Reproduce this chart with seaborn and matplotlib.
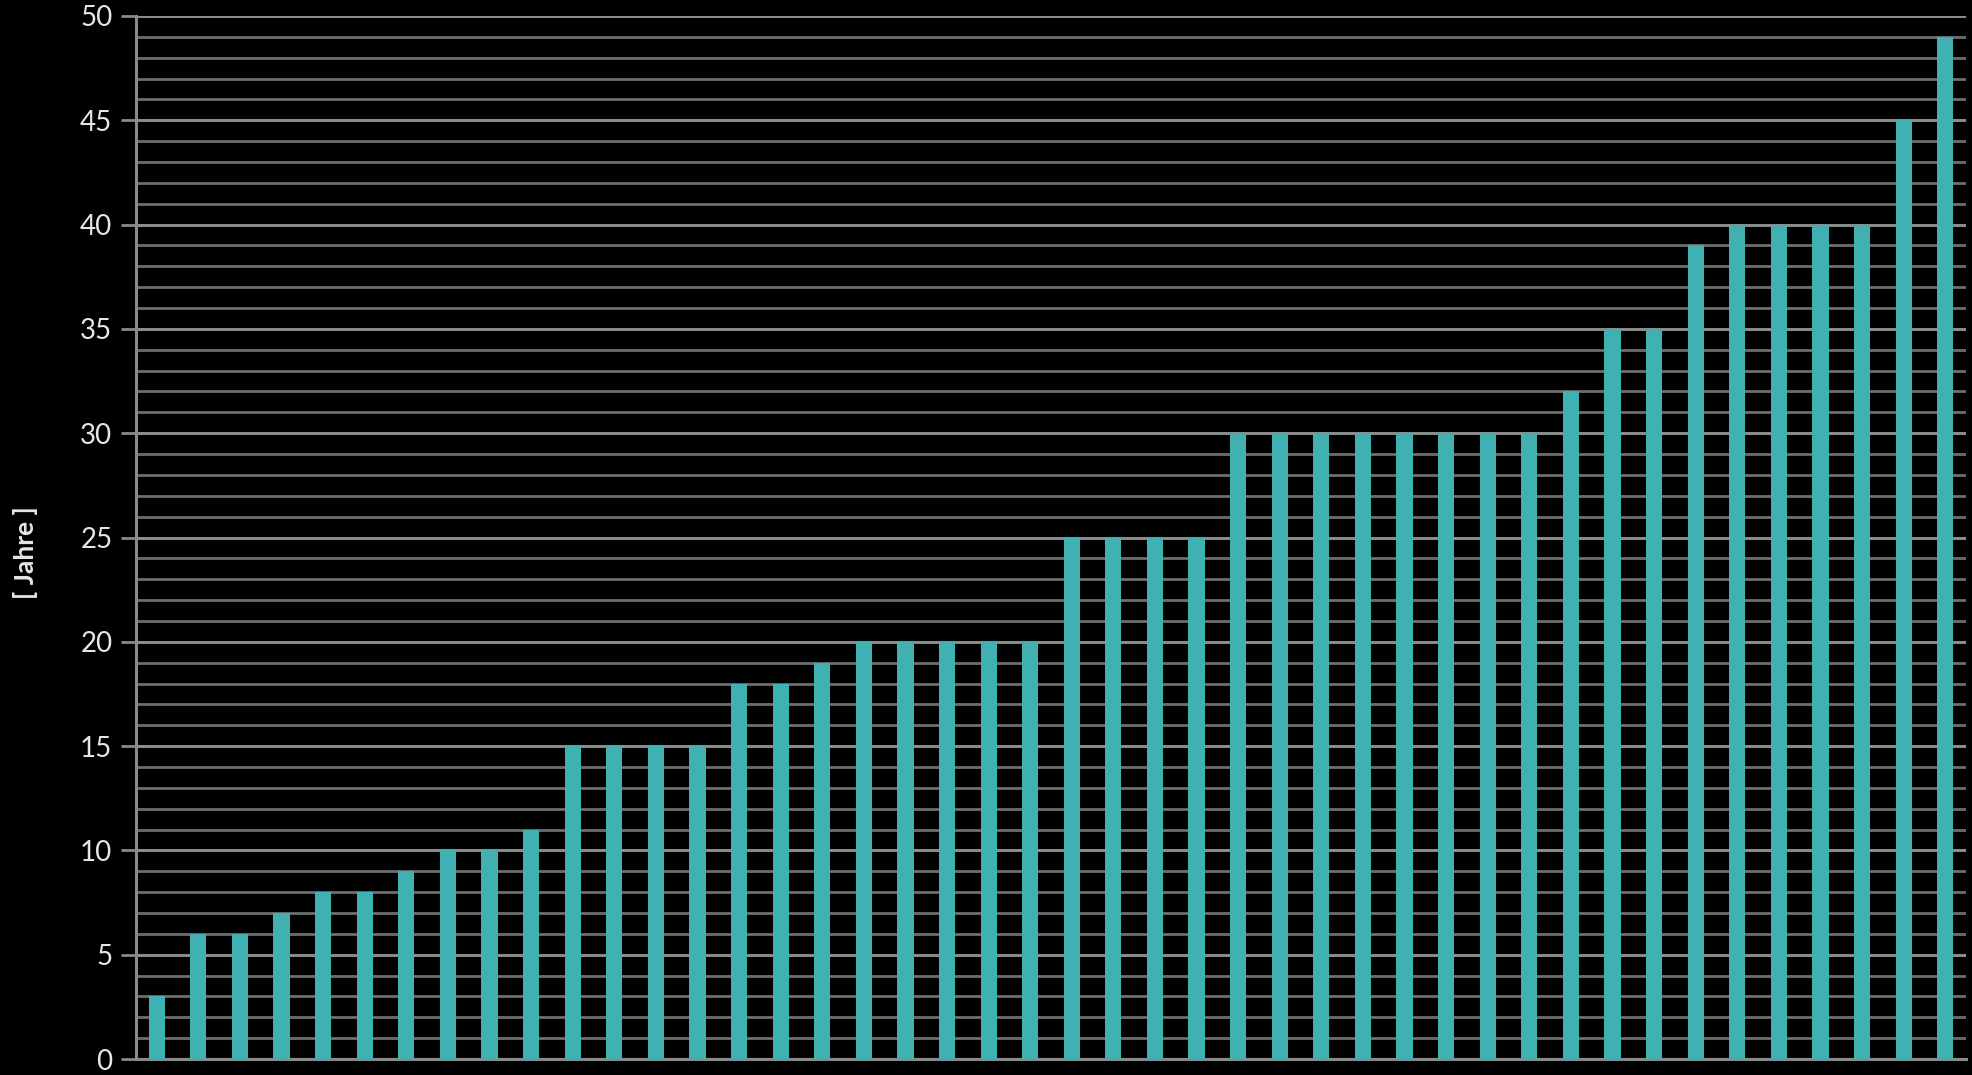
import matplotlib
matplotlib.use("Agg")
import matplotlib.pyplot as plt
import seaborn as sns
import pandas as pd
from matplotlib.ticker import MultipleLocator

values = [3, 6, 6, 7, 8, 8, 9, 10, 10, 11,
          15, 15, 15, 15, 18, 18, 19, 20, 20, 20,
          20, 20, 25, 25, 25, 25, 30, 30, 30, 30,
          30, 30, 30, 30, 32, 35, 35, 39, 40, 40,
          40, 40, 45, 49]
categories = [str(i + 1) for i in range(len(values))]
y_label = "[ Jahre ]"

df = pd.DataFrame({"cat": categories, "val": values})

sns.set_style("dark")
plt.rcParams["font.family"] = ["Lato", "DejaVu Sans"]

fig = plt.figure(figsize=(19.72, 10.75), dpi=100, facecolor="black")
ax = fig.add_axes([136 / 1972, 16 / 1075, (1966 - 136) / 1972, (1059 - 16) / 1075])
ax.set_facecolor("black")

sns.barplot(data=df, x="cat", y="val", color="#3fb1b3", saturation=1,
            width=0.39, ax=ax, zorder=3, edgecolor="none")

ax.set_ylim(0, 50)
ax.set_xlim(-0.5, len(values) - 0.5)
ax.yaxis.set_major_locator(MultipleLocator(5))
ax.yaxis.set_minor_locator(MultipleLocator(1))
ax.grid(False)
ax.grid(which="major", axis="y", color="#8a8a8a", linewidth=2.2, zorder=1)
ax.grid(which="minor", axis="y", color="#6e6e6e", linewidth=2.0, zorder=1)
ax.set_axisbelow(True)

for s in ["top", "right"]:
    ax.spines[s].set_visible(False)
for s in ["left", "bottom"]:
    ax.spines[s].set_visible(True)
    ax.spines[s].set_color("#8a8a8a")
    ax.spines[s].set_linewidth(2.2)

ax.tick_params(axis="y", which="major", length=11, width=2, color="#8a8a8a",
               labelsize=20, labelcolor="#e6e6e6", pad=6, left=True)
ax.tick_params(axis="y", which="minor", length=0)
ax.tick_params(axis="x", which="both", length=0, labelbottom=False)
ax.set_xlabel("")
ax.set_ylabel(y_label, fontsize=19, fontweight="bold", color="#e6e6e6")
ax.yaxis.set_label_coords((38 - 136) / 1830, (1059 - 553) / 1043)

fig.savefig("out.png", dpi=100, facecolor="black")
